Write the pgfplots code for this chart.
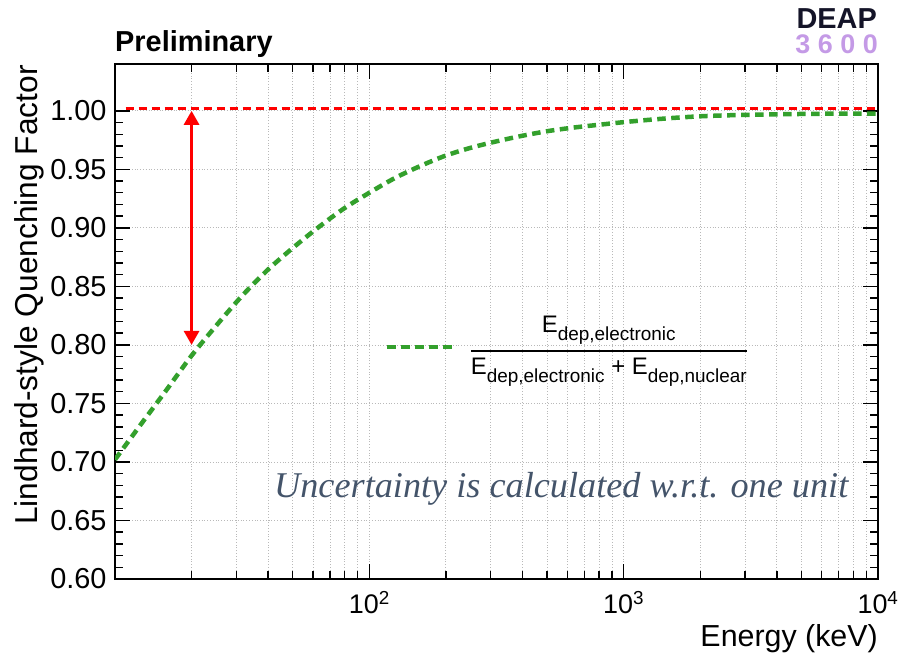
\documentclass[border=0pt]{standalone}
\usepackage{pgfplots}
\pgfplotsset{compat=1.18}
\usepackage{amsmath}
\usepackage{graphicx}
\usepackage{fontspec}
\setmainfont{Liberation Sans}
\newfontfamily\handfont{Liberation Serif}
\usetikzlibrary{arrows.meta}
\definecolor{qgreen}{RGB}{51,160,44}
\definecolor{handblue}{RGB}{68,84,106}
\definecolor{deapnavy}{RGB}{20,20,40}
\definecolor{deaplav}{RGB}{196,154,230}
\newcommand\Edep[1]{E\raisebox{-8bp}{\fontsize{19}{19}\selectfont dep,#1}}
\begin{document}
\begin{tikzpicture}[x=1bp,y=1bp]
\useasboundingbox (0,0) rectangle (902,655);
\begin{axis}[
  at={(115bp,76bp)}, anchor=south west,
  scale only axis, width=763bp, height=515bp,
  xmode=log, xmin=10, xmax=10000, ymin=0.6, ymax=1.04,
  xtick={100,1000,10000},
  xticklabels={10\textsuperscript{2},10\textsuperscript{3},10\textsuperscript{4}},
  minor xtick={20,30,40,50,60,70,80,90,200,300,400,500,600,700,800,900,2000,3000,4000,5000,6000,7000,8000,9000},
  ytick={0.60,0.65,0.70,0.75,0.80,0.85,0.90,0.95,1.00},
  minor y tick num=4,
  /pgf/number format/assume math mode=true,
  yticklabel style={/pgf/number format/fixed, /pgf/number format/fixed zerofill, /pgf/number format/precision=2, xshift=-5bp, font=\fontsize{29}{30}\selectfont},
  xticklabel style={yshift=-9bp, font=\fontsize{27}{30}\selectfont},
  xmajorgrids, xminorgrids, ymajorgrids,
  grid style={dotted, gray!55, line width=0.8bp},
  major grid style={dotted, gray!55, line width=0.8bp},
  minor grid style={dotted, gray!55, line width=0.8bp},
  axis line style={line width=1.8bp},
  tick style={line width=1.4bp, black},
  major tick length=15bp, minor tick length=8bp,
  legend style={at={(0.354,0.4505)}, anchor=west, draw=none, fill=none, inner sep=0pt, outer sep=0pt, nodes={inner sep=0pt}, column sep=15bp, font=\fontsize{24}{28}\selectfont},
  legend image code/.code={\draw[#1] (0bp,0bp) -- (65bp,0bp);},
]
\addplot[qgreen, line width=4.5bp, dash pattern=on 8.5bp off 5.5bp, smooth] table {
x y
10 0.702
12.589 0.7316
15.849 0.7608
19.953 0.7905
25.119 0.8170
31.623 0.8420
39.811 0.8640
50.119 0.8830
63.096 0.9005
79.433 0.9165
100 0.9300
125.89 0.9425
158.49 0.9528
199.53 0.9617
251.19 0.9685
316.23 0.9739
398.11 0.9786
501.19 0.9826
630.96 0.9856
794.33 0.9880
1000 0.9903
1258.9 0.9923
1584.9 0.9940
1995.3 0.9953
2511.9 0.9961
3162.3 0.9966
3981.1 0.9970
5011.9 0.9973
6309.6 0.9975
7943.3 0.9976
10000 0.9977
};
\addlegendentry{\raisebox{19bp}{$\genfrac{}{}{1.8bp}{0}{\mbox{\Edep{electronic}}}{\mbox{\Edep{electronic} + \Edep{nuclear}}}$}}
\addplot[red, line width=3bp, dash pattern=on 8bp off 5bp, forget plot] coordinates {(11,1.002) (9800,1.002)};
\addplot[red, line width=3bp, {Triangle[width=15bp,length=14bp]}-{Triangle[width=15bp,length=14bp]}, forget plot] coordinates {(20,0.80) (20,1.0)};
\end{axis}
\node[anchor=base west, inner sep=0pt, font=\bfseries\fontsize{29}{30}\selectfont] at (115,603) {Preliminary};
\node[rotate=90, anchor=base east, inner sep=0pt, font=\fontsize{31.8}{32}\selectfont] at (37,590) {Lindhard-style Quenching Factor};
\node[anchor=base east, inner sep=0pt, font=\fontsize{30.5}{32}\selectfont] at (878,8) {Energy (keV)};
\node[anchor=base west, text=handblue, inner sep=0pt] at (274,157) {\resizebox{574bp}{!}{\handfont\itshape\fontsize{36}{40}\selectfont Uncertainty is calculated w.r.t. one unit}};
\node[anchor=base east, inner sep=0pt, text=deapnavy, font=\bfseries\fontsize{29}{30}\selectfont] at (877,626) {DEAP};
\node[anchor=base east, inner sep=0pt, text=deaplav, font=\bfseries\fontsize{27}{30}\selectfont] at (878,601) {3\hspace{7.5bp}6\hspace{7.5bp}0\hspace{7.5bp}0};
\end{tikzpicture}
\end{document}
